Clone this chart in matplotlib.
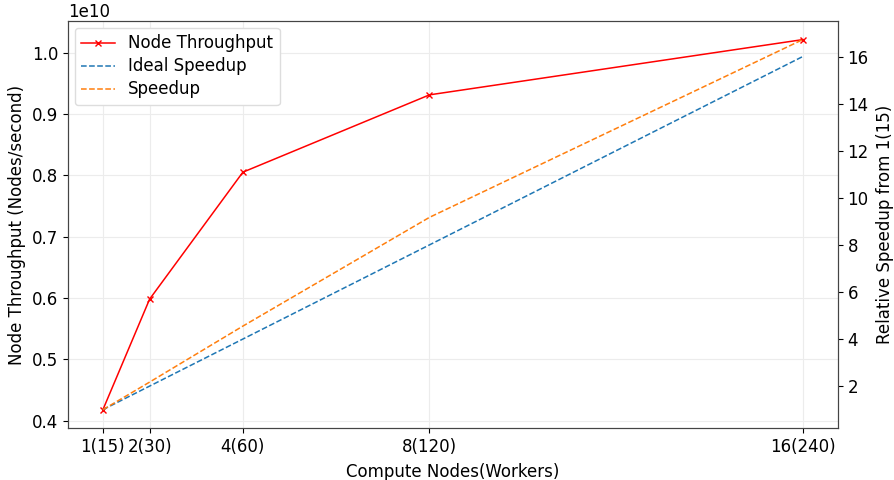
import matplotlib
matplotlib.use("Agg")
import matplotlib.pyplot as plt

nodes = [1, 2, 4, 8, 16]
tick_labels = ["1(15)", "2(30)", "4(60)", "8(120)", "16(240)"]
throughput = [0.418e10, 0.598e10, 0.805e10, 0.931e10, 1.021e10]
ideal_speedup = [1, 2, 4, 8, 16]
speedup = [1, 2.17, 4.55, 9.17, 16.72]

plt.rcParams['font.size'] = 12
fig, ax = plt.subplots(figsize=(8.94, 4.8), dpi=100)
ax2 = ax.twinx()

l1, = ax.plot(nodes, throughput, color='red', marker='x', markersize=5, linewidth=1.1, label='Node Throughput')
l2, = ax2.plot(nodes, ideal_speedup, color='#1f77b4', linestyle='--', linewidth=1.1, label='Ideal Speedup')
l3, = ax2.plot(nodes, speedup, color='#ff7f0e', linestyle='--', linewidth=1.1, label='Speedup')

ax.set_xticks(nodes)
ax.set_xticklabels(tick_labels)
ax.set_xlabel('Compute Nodes(Workers)', labelpad=5)
ax.set_ylabel('Node Throughput (Nodes/second)')
ax2.set_ylabel('Relative Speedup from 1(15)', labelpad=5)
ax.grid(True, color='#ececec', linewidth=0.8)
ax.set_axisbelow(True)

for a in (ax, ax2):
    for s in a.spines.values():
        s.set_color('#444444')

ax.legend(handles=[l1, l2, l3], loc='upper left', framealpha=1, edgecolor='#dddddd',
          labelspacing=0.3, borderaxespad=0.4)

fig.subplots_adjust(left=0.076, right=0.937, top=0.956, bottom=0.108)
fig.savefig('out.png', dpi=100)
